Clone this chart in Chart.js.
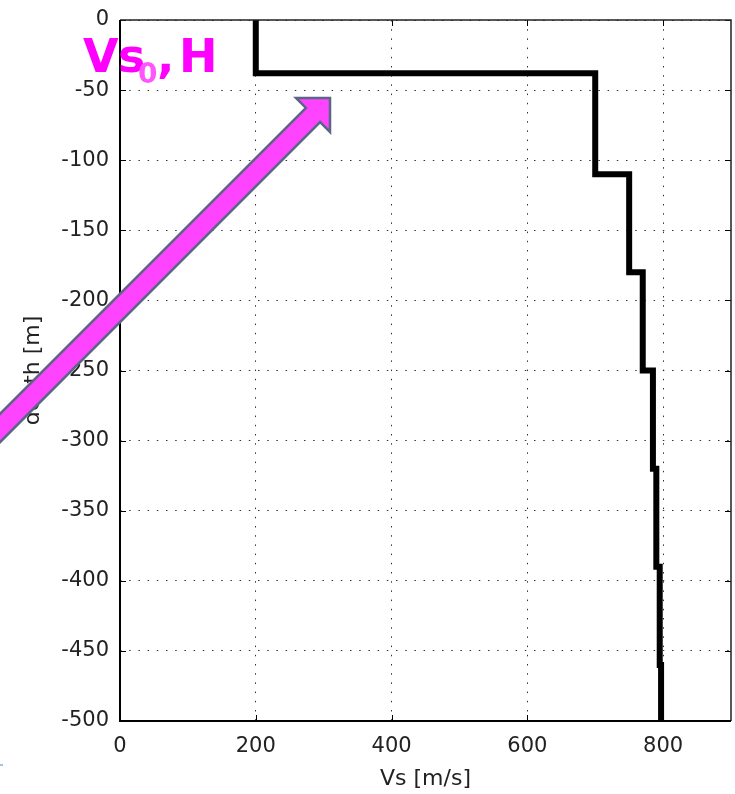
<!DOCTYPE html>
<html>
<head>
<meta charset="utf-8">
<script src="https://cdn.jsdelivr.net/npm/chart.js@4/dist/chart.umd.min.js"></script>
<style>
  html, body { margin: 0; padding: 0; background: #ffffff; }
  #wrap { width: 735px; height: 794px; position: relative; }
</style>
</head>
<body>
<div id="wrap"><canvas id="c" width="735" height="794"></canvas></div>
<script>
// Layered shear-wave velocity profile
const layerTops = [0, 38, 110, 180, 250, 320, 390, 460];   // depth of each layer top [m]
const profileBottom = 500;                                  // depth of the last layer bottom [m]
const layerVs = [200, 700, 750, 770, 785, 790, 795, 797];   // Vs of each layer [m/s]
const xTickValues = [0, 200, 400, 600, 800];
const yTickValues = [0, -50, -100, -150, -200, -250, -300, -350, -400, -450, -500];
const xTitle = 'Vs [m/s]';
const yTitle = 'depth [m]';

// staircase: each layer contributes its top and bottom corner
const profilePoints = [];
layerTops.forEach((top, i) => {
  const bottom = i + 1 < layerTops.length ? layerTops[i + 1] : profileBottom;
  profilePoints.push({ x: layerVs[i], y: -top });
  profilePoints.push({ x: layerVs[i], y: -bottom });
});

const tickFont = { family: 'DejaVu Sans', size: 21 };
const titleFont = { family: 'DejaVu Sans', size: 22 };

// box around the plot plus inward tick marks on all four sides
const frame = {
  id: 'frame',
  afterDatasetsDraw(chart) {
    const { ctx, chartArea: a, scales: { x, y } } = chart;
    ctx.save();
    ctx.strokeStyle = '#000';
    ctx.lineWidth = 1;
    const tl = 6;
    xTickValues.forEach(v => {
      const px = Math.round(x.getPixelForValue(v)) + 0.5;
      ctx.beginPath();
      ctx.moveTo(px, a.bottom); ctx.lineTo(px, a.bottom - tl);
      ctx.moveTo(px, a.top); ctx.lineTo(px, a.top + tl);
      ctx.stroke();
    });
    yTickValues.forEach(v => {
      const py = Math.round(y.getPixelForValue(v)) + 0.5;
      ctx.beginPath();
      ctx.moveTo(a.left, py); ctx.lineTo(a.left + tl, py);
      ctx.moveTo(a.right, py); ctx.lineTo(a.right - tl, py);
      ctx.stroke();
    });
    ctx.lineWidth = 1.5;
    ctx.strokeStyle = '#222';
    ctx.beginPath();
    ctx.moveTo(a.left, a.top); ctx.lineTo(a.right, a.top); ctx.lineTo(a.right, a.bottom);
    ctx.stroke();
    ctx.lineWidth = 2;
    ctx.strokeStyle = '#000';
    ctx.beginPath();
    ctx.moveTo(a.left, a.top); ctx.lineTo(a.left, a.bottom); ctx.lineTo(a.right, a.bottom);
    ctx.stroke();
    ctx.restore();
  }
};

// callout: magenta arrow and the "Vs0, H" label
const callout = {
  id: 'callout',
  afterDraw(chart) {
    const ctx = chart.ctx;
    ctx.save();
    const tip = { x: 330, y: 98 };
    const u = { x: Math.SQRT1_2, y: -Math.SQRT1_2 };   // pointing up-right
    const n = { x: Math.SQRT1_2, y: Math.SQRT1_2 };
    const headLen = 24, headHalf = 24, shaftHalf = 10, tailLen = 520;
    const base = { x: tip.x - u.x * headLen, y: tip.y - u.y * headLen };
    const tail = { x: base.x - u.x * tailLen, y: base.y - u.y * tailLen };
    const P = (p, s, k) => [p.x + n.x * s * k, p.y + n.y * s * k];
    const pts = [
      P(tail, -1, shaftHalf), P(base, -1, shaftHalf), P(base, -1, headHalf),
      [tip.x, tip.y],
      P(base, 1, headHalf), P(base, 1, shaftHalf), P(tail, 1, shaftHalf)
    ];
    ctx.beginPath();
    pts.forEach((p, i) => i ? ctx.lineTo(p[0], p[1]) : ctx.moveTo(p[0], p[1]));
    ctx.closePath();
    ctx.fillStyle = '#ff44ff';
    ctx.fill();
    ctx.lineJoin = 'miter';
    ctx.lineWidth = 2.5;
    ctx.strokeStyle = '#5c6586';
    ctx.stroke();

    ctx.textAlign = 'left';
    ctx.textBaseline = 'alphabetic';
    ctx.fillStyle = '#ff00ff';
    ctx.font = 'bold 46px "DejaVu Sans"';
    ctx.fillText('V', 83, 72);
    ctx.fillText('s', 118, 72);
    ctx.fillStyle = '#ff55ff';
    ctx.font = 'bold 28px "DejaVu Sans"';
    ctx.fillText('0', 138, 83);
    ctx.fillStyle = '#ff00ff';
    ctx.font = 'bold 46px "DejaVu Sans"';
    ctx.fillText(',', 157, 72);
    ctx.fillText('H', 179, 72);

    ctx.fillStyle = '#a9c1d9';
    ctx.fillRect(0, 764, 3, 2);
    ctx.restore();
  }
};

new Chart(document.getElementById('c'), {
  type: 'scatter',
  data: {
    datasets: [{
      data: profilePoints,
      showLine: true,
      borderColor: '#000',
      borderWidth: 6,
      borderJoinStyle: 'miter',
      borderCapStyle: 'butt',
      pointRadius: 0,
      pointHoverRadius: 0,
      tension: 0
    }]
  },
  options: {
    responsive: false,
    animation: false,
    devicePixelRatio: 1,
    layout: { padding: { top: 20, right: 4, left: 0, bottom: 0 } },
    plugins: { legend: { display: false }, tooltip: { enabled: false } },
    events: [],
    scales: {
      x: {
        type: 'linear',
        min: 0, max: 900,
        afterBuildTicks: s => { s.ticks = xTickValues.map(v => ({ value: v })); },
        afterFit: s => { s.height = 73; s.paddingLeft = 0; s.paddingRight = 0; },
        ticks: { font: tickFont, color: '#222', padding: 13, maxRotation: 0 },
        grid: { color: '#333', lineWidth: 1, drawTicks: false },
        border: { display: false, dash: [1.5, 7.7] },
        title: { display: true, text: xTitle, font: titleFont, color: '#222', padding: { top: 0, bottom: 2 } }
      },
      y: {
        type: 'linear',
        min: -500, max: 0,
        afterBuildTicks: s => { s.ticks = yTickValues.map(v => ({ value: v })); },
        afterFit: s => { s.width = 120; s.paddingTop = 0; s.paddingBottom = 0; },
        ticks: { font: tickFont, color: '#222', padding: 11 },
        grid: { color: '#333', lineWidth: 1, drawTicks: false },
        border: { display: false, dash: [1.5, 7.7] },
        title: { display: true, text: yTitle, font: titleFont, color: '#222', padding: { top: 20, bottom: 0 } }
      }
    }
  },
  plugins: [frame, callout]
});
</script>
</body>
</html>
